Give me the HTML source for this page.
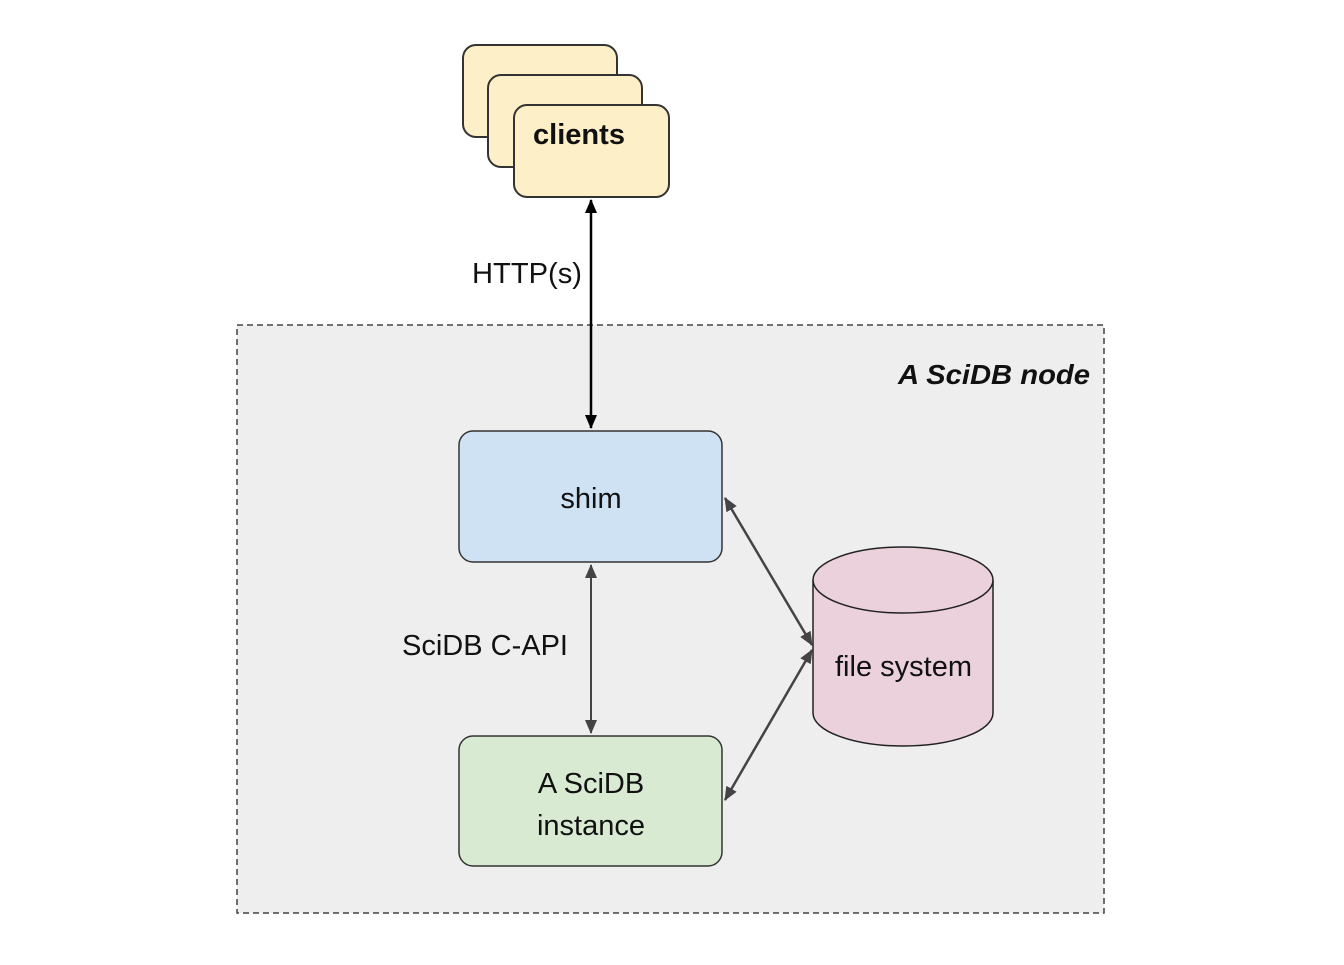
<!DOCTYPE html>
<html><head><style>body{margin:0;background:#fff}</style></head><body>
<svg width="1344" height="960" xmlns="http://www.w3.org/2000/svg" font-family="Liberation Sans, Arial, sans-serif">
<defs>
<marker id="g" markerWidth="14" markerHeight="12" refX="13" refY="6" orient="auto-start-reverse" markerUnits="userSpaceOnUse"><path d="M0,0 L14,6 L0,12 z" fill="#444"/></marker>
<marker id="k" markerWidth="14" markerHeight="12" refX="13" refY="6" orient="auto-start-reverse" markerUnits="userSpaceOnUse"><path d="M0,0 L14,6 L0,12 z" fill="#000"/></marker>
</defs>
<rect x="237" y="325" width="867" height="588" fill="#eeeeee" stroke="#444" stroke-width="1.5" stroke-dasharray="6,4"/>
<text x="898" y="384" font-size="28" font-weight="bold" font-style="italic" textLength="192" lengthAdjust="spacingAndGlyphs" fill="#111">A SciDB node</text>
<rect x="463" y="45" width="154" height="92" rx="13" fill="#fdefc8" stroke="#333" stroke-width="2"/>
<rect x="488" y="75" width="154" height="92" rx="13" fill="#fdefc8" stroke="#333" stroke-width="2"/>
<rect x="514" y="105" width="155" height="92" rx="13" fill="#fdefc8" stroke="#333" stroke-width="2"/>
<text x="533" y="144" font-size="29" font-weight="bold" textLength="92" lengthAdjust="spacingAndGlyphs" fill="#111">clients</text>
<line x1="591" y1="200" x2="591" y2="428" stroke="#000" stroke-width="2.5" marker-start="url(#k)" marker-end="url(#k)"/>
<text x="472" y="283" font-size="29" textLength="110" lengthAdjust="spacingAndGlyphs" fill="#111">HTTP(s)</text>
<rect x="459" y="431" width="263" height="131" rx="14" fill="#cfe2f3" stroke="#333" stroke-width="1.5"/>
<text x="591" y="508" font-size="29" text-anchor="middle" fill="#111">shim</text>
<line x1="591" y1="565" x2="591" y2="733" stroke="#444" stroke-width="2" marker-start="url(#g)" marker-end="url(#g)"/>
<text x="402" y="655" font-size="29" textLength="166" lengthAdjust="spacingAndGlyphs" fill="#111">SciDB C-API</text>
<rect x="459" y="736" width="263" height="130" rx="14" fill="#d9ead3" stroke="#333" stroke-width="1.5"/>
<text x="591" y="793" font-size="29" text-anchor="middle" fill="#111">A SciDB</text>
<text x="591" y="835" font-size="29" text-anchor="middle" fill="#111">instance</text>
<path d="M813,580 L813,713 A90,33 0 0 0 993,713 L993,580" fill="#ead1dc" stroke="#222" stroke-width="1.5"/>
<ellipse cx="903" cy="580" rx="90" ry="33" fill="#ead1dc" stroke="#222" stroke-width="1.5"/>
<text x="835" y="676" font-size="29" textLength="137" lengthAdjust="spacingAndGlyphs" fill="#111">file system</text>
<line x1="725" y1="498" x2="812" y2="645" stroke="#444" stroke-width="2.5" marker-start="url(#g)" marker-end="url(#g)"/>
<line x1="725" y1="800" x2="812" y2="650" stroke="#444" stroke-width="2.5" marker-start="url(#g)" marker-end="url(#g)"/>
</svg>
</body></html>
